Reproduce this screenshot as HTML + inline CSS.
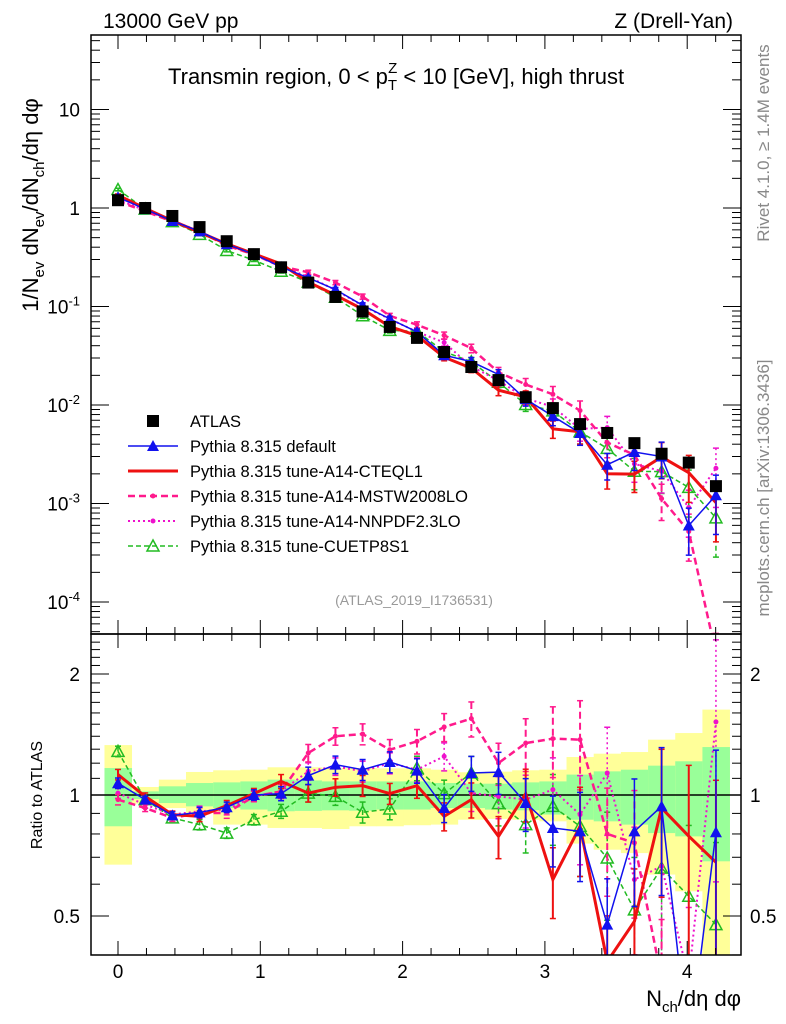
<!DOCTYPE html>
<html><head><meta charset="utf-8"><style>
html,body{margin:0;background:#fff;width:786px;height:1024px;overflow:hidden;position:relative}
svg{display:block;font-family:"Liberation Sans",sans-serif}
</style></head><body>
<svg id="c" width="786" height="1024" viewBox="0 0 786 1024" style="position:absolute;left:0;top:0"></svg>
<script>
const xs=[0,0.191,0.382,0.573,0.764,0.955,1.146,1.337,1.528,1.719,1.91,2.101,2.292,2.483,2.674,2.865,3.056,3.247,3.438,3.629,3.82,4.011,4.202];
const atlas=[1.2,1.0,0.83,0.64,0.46,0.34,0.25,0.175,0.125,0.089,0.062,0.048,0.0345,0.0243,0.0179,0.012,0.0093,0.0064,0.0052,0.0041,0.0032,0.0026,0.0015];
const rDefault=[1.07,0.974,0.89,0.905,0.932,1.0,1.008,1.117,1.19,1.156,1.208,1.15,0.928,1.134,1.14,0.955,0.828,0.812,0.476,0.812,0.937,0.23,0.808];
const rCTEQ=[1.124,0.992,0.894,0.885,0.941,1.008,1.081,1.011,1.045,1.055,1.008,1.055,0.885,0.974,0.789,1.008,0.616,0.836,0.385,0.485,0.928,0.79,0.68];
const rMSTW=[0.974,0.928,0.877,0.902,0.902,0.992,1.021,1.272,1.4,1.418,1.296,1.36,1.476,1.549,1.201,1.346,1.381,1.373,0.8,0.76,0.35,0.2,0.02];
const rNNPDF=[1.011,0.946,0.894,0.911,0.92,0.992,1.021,1.145,1.178,1.145,1.201,1.156,1.248,1.011,0.992,0.974,1.031,0.894,1.134,0.616,0.665,0.35,1.52];
const rCUETP=[1.284,0.974,0.877,0.844,0.804,0.868,0.911,1.011,0.992,0.906,0.923,1.167,1.008,1.134,0.952,0.844,0.937,0.836,0.697,0.518,0.658,0.56,0.476];
const mcErr=[0.03,0.02,0.02,0.03,0.03,0.03,0.04,0.05,0.05,0.06,0.06,0.07,0.08,0.1,0.12,0.15,0.2,0.25,0.3,0.35,0.4,0.5,0.6];
const yelUp=[1.331,1.047,1.092,1.141,1.152,1.156,1.172,1.172,1.167,1.167,1.165,1.165,1.156,1.139,1.143,1.152,1.156,1.243,1.267,1.279,1.373,1.426,1.631];
const yelDn=[0.671,0.952,0.928,0.902,0.844,0.844,0.828,0.828,0.823,0.836,0.836,0.841,0.844,0.868,0.872,0.868,0.86,0.757,0.731,0.717,0.634,0.576,0.397];
const grnUp=[1.167,1.021,1.051,1.071,1.075,1.081,1.092,1.087,1.081,1.081,1.081,1.081,1.071,1.067,1.067,1.075,1.081,1.124,1.145,1.156,1.183,1.213,1.316];
const grnDn=[0.836,0.977,0.955,0.937,0.928,0.92,0.911,0.913,0.916,0.914,0.92,0.92,0.928,0.928,0.92,0.916,0.894,0.868,0.86,0.844,0.804,0.789,0.684];
const xTicks=[0,1,2,3,4];
const mainTicks=[[10,"10"],[1,"1"],[0.1,"10^-1"],[0.01,"10^-2"],[0.001,"10^-3"],[0.0001,"10^-4"]];
const ratioTicks=[[2,"2"],[1,"1"],[0.5,"0.5"]];

const NS="http://www.w3.org/2000/svg";
const svg=document.getElementById('c');
const L=91,R=741,MT=35,MB=634,RT=634,RB=955;
const X=v=>118+v*142.3;
const Ym=v=>208-98.5*Math.log10(v);
const Yr=v=>795-402*Math.log10(v);
function mk(tag,attrs,parent){const e=document.createElementNS(NS,tag);for(const k in attrs)e.setAttribute(k,attrs[k]);(parent||svg).appendChild(e);return e;}
function txt(s,x,y,size,anchor,fill,parent){const t=mk('text',{x:x,y:y,'font-size':size,'text-anchor':anchor||'start',fill:fill||'#000'},parent);t.textContent=s;return t;}

const defs=mk('defs',{});
const c1=mk('clipPath',{id:'cm'},defs);mk('rect',{x:L,y:MT,width:R-L,height:MB-MT},c1);
const c2=mk('clipPath',{id:'cr'},defs);mk('rect',{x:L,y:RT,width:R-L,height:RB-RT},c2);

const gBand=mk('g',{'clip-path':'url(#cr)'});


for(let i=0;i<xs.length;i++){
  const x0=X(xs[i]-0.095), x1=X(xs[i]+0.095);
  const y=mk('rect',{x:x0,y:Yr(yelUp[i]),width:x1-x0+0.5,height:Yr(yelDn[i])-Yr(yelUp[i]),fill:'#ffff99'},gBand);
  
  
  const g=mk('rect',{x:x0,y:Yr(grnUp[i]),width:x1-x0+0.5,height:Yr(grnDn[i])-Yr(grnUp[i]),fill:'#99ff99'},gBand);
  
  
}
mk('line',{x1:L,x2:R,y1:Yr(1),y2:Yr(1),stroke:'#000','stroke-width':1.5});

const series=[
 {n:'cuetp8s1',r:rCUETP,c:'#22bb22',w:1.5,d:'5,3',m:'otri'},
 {n:'nnpdf',r:rNNPDF,c:'#ee11cc',w:2,d:'2,3',m:'dot'},
 {n:'mstw',r:rMSTW,c:'#ff1a8c',w:2.5,d:'7,4',m:'dot'},
 {n:'cteql1',r:rCTEQ,c:'#ee1111',w:3,d:'',m:'none'},
 {n:'default',r:rDefault,c:'#1111ee',w:1.5,d:'',m:'tri'}
];
function marker(type,x,y,c,g){
  if(type==='tri'){mk('polygon',{points:`${x},${y-6} ${x-6},${y+5} ${x+6},${y+5}`,fill:c},g);}
  else if(type==='otri'){mk('polygon',{points:`${x},${y-6} ${x-6},${y+5} ${x+6},${y+5}`,fill:'none',stroke:c,'stroke-width':1.5},g);}
  else if(type==='dot'){mk('circle',{cx:x,cy:y,r:2.5,fill:c},g);}
}
function drawPanel(clip,Yf,isMain){
  series.forEach(s=>{
    const g=mk('g',{'clip-path':'url(#'+clip+')'});
    
    
    const vals=xs.map((x,i)=>isMain?atlas[i]*s.r[i]:s.r[i]);
    for(let i=0;i<xs.length;i++){
      const up=vals[i]*(1+mcErr[i]), dn=Math.max(vals[i]*(1-mcErr[i]),1e-9);
      mk('line',{x1:X(xs[i]),x2:X(xs[i]),y1:Yf(up),y2:Yf(dn),stroke:s.c,'stroke-width':s.w>2?2:1.5,'stroke-dasharray':s.d},g);
      mk('line',{x1:X(xs[i])-3,x2:X(xs[i])+3,y1:Yf(up),y2:Yf(up),stroke:s.c,'stroke-width':1.5},g);
      mk('line',{x1:X(xs[i])-3,x2:X(xs[i])+3,y1:Yf(dn),y2:Yf(dn),stroke:s.c,'stroke-width':1.5},g);
    }
    mk('polyline',{points:vals.map((v,i)=>X(xs[i])+','+Yf(Math.max(v,1e-9))).join(' '),fill:'none',stroke:s.c,'stroke-width':s.w,'stroke-dasharray':s.d},g);
    vals.forEach((v,i)=>marker(s.m,X(xs[i]),Yf(v),s.c,g));
  });
}
drawPanel('cr',Yr,false);
drawPanel('cm',Ym,true);
const ga2=mk('g',{});


atlas.forEach((v,i)=>{const r=mk('rect',{x:X(xs[i])-6,y:Ym(v)-6,width:12,height:12,fill:'#000'},ga2);
  
  });

mk('rect',{x:L,y:MT,width:R-L,height:MB-MT,fill:'none',stroke:'#000','stroke-width':1.5});
mk('rect',{x:L,y:RT,width:R-L,height:RB-RT,fill:'none',stroke:'#000','stroke-width':1.5});

for(let v=-0.2;v<=4.4;v+=0.2){
  const vv=Math.round(v*10)/10; if(vv<-0.18||vv>4.36) continue;
  const major=Math.abs(vv-Math.round(vv))<1e-6; const len=major?14:7;
  [[MT,1],[MB,-1],[RT,1],[RB,-1]].forEach(([y,d])=>mk('line',{x1:X(vv),x2:X(vv),y1:y,y2:y+d*len,stroke:'#000','stroke-width':1}));
}
xTicks.forEach(v=>{const t=txt(String(v),X(v),978,19,'middle');
  
  });
for(let e=-5;e<=1;e++){for(let k=1;k<10;k++){const v=k*Math.pow(10,e);const y=Ym(v);if(y<MT||y>MB)continue;
  const len=k===1?18:9;
  mk('line',{x1:L,x2:L+len,y1:y,y2:y,stroke:'#000'});mk('line',{x1:R,x2:R-len,y1:y,y2:y,stroke:'#000'});}}
mainTicks.forEach(([v,s])=>{
  const y=Ym(v)+7;let t;
  if(s.indexOf('^')>0){const p=s.split('^');t=txt('',80,y,19,'end');
    const a=mk('tspan',{},t);a.textContent=p[0];const b=mk('tspan',{dy:-8,'font-size':13},t);b.textContent=p[1];}
  else t=txt(s,80,y,19,'end');
  
  
});
for(let v=0.4;v<=2.5;v+=0.1){const vv=Math.round(v*10)/10;const y=Yr(vv);if(y<RT||y>RB)continue;
  const major=[0.5,1,2].includes(vv);const len=major?18:9;
  mk('line',{x1:L,x2:L+len,y1:y,y2:y,stroke:'#000'});mk('line',{x1:R,x2:R-len,y1:y,y2:y,stroke:'#000'});}
ratioTicks.forEach(([v,s])=>{const a=txt(s,80,Yr(v)+7,19,'end');
  
  
  const b=txt(s,750,Yr(v)+7,19,'start');
  
  });

const leg=mk('g',{});


const legItems=[['ATLAS',null],['Pythia 8.315 default',series[4]],['Pythia 8.315 tune-A14-CTEQL1',series[3]],['Pythia 8.315 tune-A14-MSTW2008LO',series[2]],['Pythia 8.315 tune-A14-NNPDF2.3LO',series[1]],['Pythia 8.315 tune-CUETP8S1',series[0]]];
legItems.forEach(([lab,s],i)=>{
  const y=421+i*25;
  const g=mk('g',{},leg);
  
  
  if(!s){mk('rect',{x:147,y:y-6,width:12,height:12,fill:'#000'},g);}
  else{mk('line',{x1:128,x2:178,y1:y,y2:y,stroke:s.c,'stroke-width':s.w,'stroke-dasharray':s.d},g);marker(s.m,153,y,s.c,g);}
  txt(lab,190,y+6,16.5,'start','#000',g);
});
</script>
<svg width="786" height="1024" style="position:absolute;left:0;top:0" font-family="Liberation Sans, sans-serif">
<text x="103" y="28" font-size="21">13000 GeV pp</text>
<text x="733" y="28" font-size="21" text-anchor="end">Z (Drell-Yan)</text>
<text x="168" y="84" font-size="22">Transmin region, 0 &lt; p<tspan dy="6" font-size="15">T</tspan><tspan dy="-17" dx="-9" font-size="15">Z</tspan><tspan dy="11"> &lt; 10 [GeV], high thrust</tspan></text>
<text transform="translate(38,205) rotate(-90)" font-size="22" text-anchor="middle">1/N<tspan dy="6" font-size="15">ev</tspan><tspan dy="-6"> dN</tspan><tspan dy="6" font-size="15">ev</tspan><tspan dy="-6">/dN</tspan><tspan dy="6" font-size="15">ch</tspan><tspan dy="-6">/dη dφ</tspan></text>
<text transform="translate(42,795) rotate(-90)" font-size="16" text-anchor="middle">Ratio to ATLAS</text>
<text x="741" y="1006" font-size="22" text-anchor="end">N<tspan dy="6" font-size="15">ch</tspan><tspan dy="-6">/dη dφ</tspan></text>
<text transform="translate(769,143) rotate(-90)" font-size="17" fill="#888" text-anchor="middle">Rivet 4.1.0, ≥ 1.4M events</text>
<text transform="translate(769,488) rotate(-90)" font-size="17" fill="#888" text-anchor="middle">mcplots.cern.ch [arXiv:1306.3436]</text>
<text x="414" y="605" font-size="14" fill="#999" text-anchor="middle">(ATLAS_2019_I1736531)</text>
</svg>
</body></html>
